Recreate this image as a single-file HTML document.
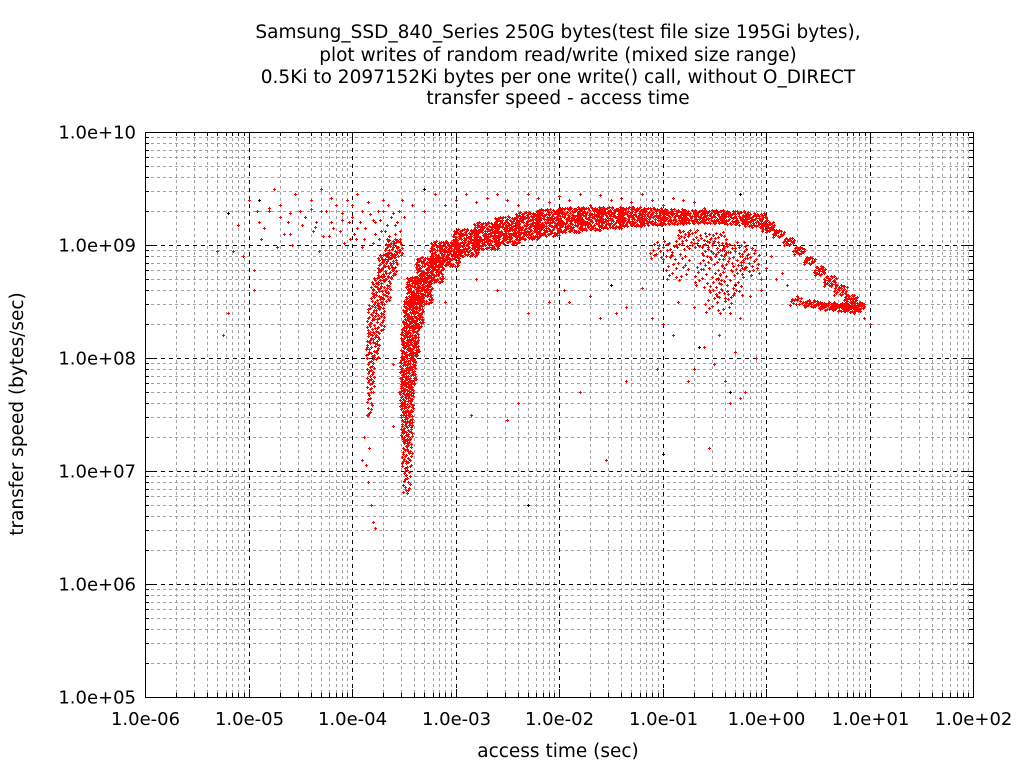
<!DOCTYPE html>
<html><head><meta charset="utf-8"><style>
body{margin:0;background:#fff;}
svg text{font-family:"DejaVu Sans","Liberation Sans",sans-serif;}
</style></head><body>
<svg id="chart" width="1024" height="768" xmlns="http://www.w3.org/2000/svg">
<rect width="1024" height="768" fill="#fff"/>
<g font-size="18.5" text-anchor="middle" fill="#000">
<text x="558" y="38">Samsung_SSD_840_Series 250G bytes(test file size 195Gi bytes),</text>
<text x="558" y="61">plot writes of random read/write (mixed size range)</text>
<text x="558" y="83">0.5Ki to 2097152Ki bytes per one write() call, without O_DIRECT</text>
<text x="558" y="104">transfer speed - access time</text>
</g>
<g id="grid"></g>
<g id="ticks"></g>
<g id="marks"></g>
<rect x="145.5" y="132.5" width="828" height="565" fill="none" stroke="#000" stroke-width="1"/>
<text x="558" y="757" font-size="18.5" text-anchor="middle">access time (sec)</text>
<text transform="translate(23,414) rotate(-90)" font-size="18.5" text-anchor="middle">transfer speed (bytes/sec)</text>
</svg>
<script>
const xTickExps=[-6,-5,-4,-3,-2,-1,0,1,2];
const xTickLabels=["1.0e-06","1.0e-05","1.0e-04","1.0e-03","1.0e-02","1.0e-01","1.0e+00","1.0e+01","1.0e+02"];
const yTickExps=[5,6,7,8,9,10];
const yTickLabels=["1.0e+05","1.0e+06","1.0e+07","1.0e+08","1.0e+09","1.0e+10"];
// dense band segments: log10 x, log10 y, x-spread(px), y-spread(px), count
const band=[
[-3.47,6.9,8,26,10],[-3.47,7.15,10,30,22],[-3.47,7.4,12,30,32],[-3.47,7.65,14,30,42],[-3.46,7.9,16,30,55],
[-3.44,8.15,18,30,65],[-3.41,8.4,20,30,75],[-3.35,8.6,26,28,85],[-3.25,8.78,28,26,85],[-3.1,8.92,30,26,85],
[-2.9,9.02,26,28,80],[-2.7,9.08,26,28,80],[-2.5,9.13,26,28,80],[-2.3,9.17,26,28,80],[-2.1,9.2,26,28,75],
[-1.9,9.22,26,26,70],[-1.7,9.23,26,24,65],[-1.5,9.24,26,22,60],[-1.3,9.25,26,20,55],[-1.1,9.25,26,18,50],
[-0.9,9.25,26,16,45],[-0.7,9.25,26,14,42],[-0.5,9.25,26,14,40],[-0.3,9.24,26,14,38],[-0.1,9.22,24,14,34],
[0.02,9.16,14,10,16],[0.12,9.1,12,8,10],[0.22,9.03,12,8,10],[0.32,8.95,12,8,10],[0.42,8.86,12,8,10],
[0.52,8.77,12,10,12],[0.62,8.68,14,12,14],[0.72,8.6,14,12,14],[0.82,8.52,14,10,14],[0.9,8.46,12,8,12],
[0.3,8.5,16,8,8],[0.45,8.48,18,8,14],[0.6,8.46,18,8,18],[0.72,8.45,18,8,20],[0.84,8.44,18,8,20],
[-3.83,7.6,6,30,8],[-3.82,7.85,8,30,14],[-3.8,8.1,14,30,24],[-3.77,8.35,18,30,32],[-3.72,8.6,20,28,36],
[-3.66,8.82,20,24,34],[-3.6,8.97,18,20,26],
[-0.75,9.05,26,20,20],[-0.5,9.0,26,26,26],[-0.3,8.9,26,30,22],[-0.55,8.75,30,30,18],[-0.35,8.65,30,30,16],
[-0.15,8.85,20,30,14],[-0.85,8.8,26,30,12],[-0.45,8.5,30,26,12],[-1.0,8.95,26,20,12]
];
const ptX=[-5.15,-5.0,-4.9,-4.85,-4.8,-4.75,-4.7,-4.62,-4.55,-4.5,-4.45,-4.4,-4.35,-4.3,-4.25,-4.2,-4.15,-4.1,-4.05,-4.0,-3.95,-3.9,-3.85,-3.8,-3.75,-3.7,-3.65,-3.6,-3.55,-3.5,
-4.95,-4.88,-4.72,-4.66,-4.58,-4.48,-4.38,-4.28,-4.18,-4.08,-3.98,-3.88,-3.78,-3.68,-3.58,-5.05,-4.92,-4.6,-4.32,-4.02,-3.72,-3.52,-3.42,-3.3,-3.2,-3.1,-3.0,-2.9,-2.8,-2.7,
-2.6,-2.5,-2.4,-2.3,-2.2,-2.1,-2.0,-1.9,-1.8,-1.7,-1.6,-1.5,-1.4,-1.3,-1.2,-1.1,-1.0,-0.9,-0.8,-0.7,-0.6,-0.5,-0.4,-0.3,-0.2,-0.1,
-2.1,-1.95,-1.7,-1.45,-1.2,-1.0,-0.85,-0.7,-0.55,-0.45,-0.35,-0.25,-0.15,-0.05,-0.6,-0.9,-1.1,-1.35,-1.6,-1.9,-2.3,-2.6,-2.8,-3.1,
-2.85,-2.5,-2.4,-1.8,-1.55,-1.35,-1.05,-0.75,-0.4,-0.2,-0.3,-0.1,-0.5,-0.7,-0.35,-0.25,-0.55,
-5.3,-5.25,-4.95,-5.2,-3.8,-3.85,-3.88,-3.9,-3.85,-3.82,-3.8,-3.78,-3.84,-3.86,-3.8,-3.76,-3.6,-3.55,-3.6,-3.53,-3.5,
1.0,0.95,0.85,0.1,0.05,0.0,-0.05,0.3,0.2,0.15,
-4.7,-4.4,-4.2,-4.0,-3.95,-4.1,-4.3,-4.6,-4.8,-5.1,
-3.92,-3.87,-3.83,-3.78,-3.73,-3.7,-3.66,-3.62,-3.57,-3.54,-3.96,-4.03,-4.12,-4.22,-4.36,-3.9,-3.8,-3.74,-3.64,-3.58];
const ptY=[8.95,9.4,9.2,9.15,9.3,9.5,9.35,9.2,9.45,9.3,9.25,9.4,9.2,9.5,9.3,9.42,9.35,9.28,9.4,9.25,9.45,9.3,9.38,9.22,9.3,9.4,9.35,9.28,9.3,9.25,
8.78,9.05,8.98,9.1,9.0,9.18,9.12,9.08,9.15,9.02,9.1,9.05,9.2,9.12,9.18,8.9,9.3,9.1,8.95,9.05,9.12,9.4,9.35,9.3,9.45,9.35,9.4,9.45,9.38,9.42,
9.45,9.4,9.35,9.45,9.42,9.38,9.43,9.4,9.45,9.35,9.44,9.4,9.42,9.38,9.45,9.4,9.35,9.42,9.4,9.38,9.33,9.3,9.28,9.3,9.25,9.2,
8.5,8.6,8.55,8.4,8.62,8.3,8.5,8.45,8.6,8.2,8.4,8.35,8.55,8.7,8.1,8.2,8.35,8.45,8.35,8.5,8.4,8.6,8.7,8.5,
7.5,7.45,7.6,7.7,7.1,7.8,7.9,7.8,7.8,7.7,8.05,8.0,7.95,7.9,7.6,7.65,7.2,
8.95,8.2,8.6,8.4,7.7,7.5,7.3,7.1,6.9,6.7,6.55,6.5,7.2,7.05,8.35,8.15,7.95,7.7,7.4,7.5,7.6,
8.3,8.35,8.4,8.7,8.9,8.8,8.6,8.55,8.65,8.75,
9.25,9.32,9.2,9.35,9.15,9.22,9.3,9.28,9.33,9.18,
9.2,9.15,9.27,9.1,9.22,9.3,9.18,9.25,9.2,9.12,9.05,9.2,9.12,9.08,9.16,8.98,9.02,9.05,9.08,9.1];
const ptBlack=[-5.2,9.28,-4.9,9.4,-3.3,9.5,-0.3,8.65,-1.0,7.15,-2.3,6.7,-0.25,9.45,-0.65,8.1,-1.5,8.65,-0.35,7.7];
const NS='http://www.w3.org/2000/svg';
const L=145,R=973,T=132,B=697;
const DENSITY=1.8;
const sx=e=>L+(e+6)*(R-L)/8;
const sy=e=>B-(e-5)*(B-T)/5;
const grid=document.getElementById('grid'),ticks=document.getElementById('ticks'),marks=document.getElementById('marks');
function line(g,x1,y1,x2,y2,st,dash){const l=document.createElementNS(NS,'line');l.setAttribute('x1',x1);l.setAttribute('y1',y1);l.setAttribute('x2',x2);l.setAttribute('y2',y2);l.setAttribute('stroke',st);l.setAttribute('stroke-width',1);if(dash)l.setAttribute('stroke-dasharray',dash);g.appendChild(l);return l;}
for(let d=-6;d<2;d++)for(let m=2;m<10;m++){const x=Math.round(sx(d+Math.log10(m)))+0.5;
 const gl=line(grid,x,T,x,B,'#a0a0a0','3,3');
 line(ticks,x,B,x,B-4,'#000');line(ticks,x,T,x,T+4,'#000');}
for(let d=5;d<10;d++)for(let m=2;m<10;m++){const y=Math.round(sy(d+Math.log10(m)))+0.5;
 const gl=line(grid,L,y,R,y,'#a0a0a0','3,3');
 line(ticks,L,y,L+4,y,'#000');line(ticks,R,y,R-4,y,'#000');}
xTickExps.forEach((e,i)=>{const x=Math.round(sx(e))+0.5;
 if(i>0&&i<xTickExps.length-1){const gl=line(grid,x,T,x,B,'#000','4,4');}
 line(ticks,x,B,x,B-8,'#000');line(ticks,x,T,x,T+8,'#000');
 const t=document.createElementNS(NS,'text');t.setAttribute('x',x);t.setAttribute('y',725);t.setAttribute('font-size','18');t.setAttribute('text-anchor','middle');t.textContent=xTickLabels[i];
 
 
 ticks.appendChild(t);});
yTickExps.forEach((e,i)=>{const y=Math.round(sy(e))+0.5;
 if(i>0&&i<yTickExps.length-1){const gl=line(grid,L,y,R,y,'#000','4,4');}
 line(ticks,L,y,L+8,y,'#000');line(ticks,R,y,R-8,y,'#000');
 const t=document.createElementNS(NS,'text');t.setAttribute('x',136);t.setAttribute('y',y+6);t.setAttribute('font-size','18');t.setAttribute('text-anchor','end');t.textContent=yTickLabels[i];
 
 
 ticks.appendChild(t);});
let pathD='',pathK='';
function plus(px,py){px=Math.round(px);py=Math.round(py);return `M${px-1} ${py+0.5}h3M${px+0.5} ${py-1}v3`;}
function halton(i,b){let f=1,r=0;while(i>0){f/=b;r+=f*(i%b);i=Math.floor(i/b);}return r;}
band.forEach(([ex,ey,w,h,n])=>{const cx=sx(ex),cy=sy(ey);const m=Math.round(n*DENSITY);
 for(let k=1;k<=m;k++){const dx=(halton(k,2)-0.5)*w,dy=(halton(k,3)-0.5)*h;pathD+=plus(cx+dx,cy+dy);}});
ptX.forEach((e,i)=>{pathD+=plus(sx(e),sy(ptY[i]));});
for(let i=0;i<ptBlack.length;i+=2)pathK+=plus(sx(ptBlack[i]),sy(ptBlack[i+1]));
const p=document.createElementNS(NS,'path');p.setAttribute('d',pathD);p.setAttribute('stroke','#ff0000');p.setAttribute('stroke-width',1);p.setAttribute('fill','none');


marks.appendChild(p);
const pk=document.createElementNS(NS,'path');pk.setAttribute('d',pathK);pk.setAttribute('stroke','#000');pk.setAttribute('stroke-width',1);pk.setAttribute('fill','none');


marks.appendChild(pk);
</script>
</body></html>
